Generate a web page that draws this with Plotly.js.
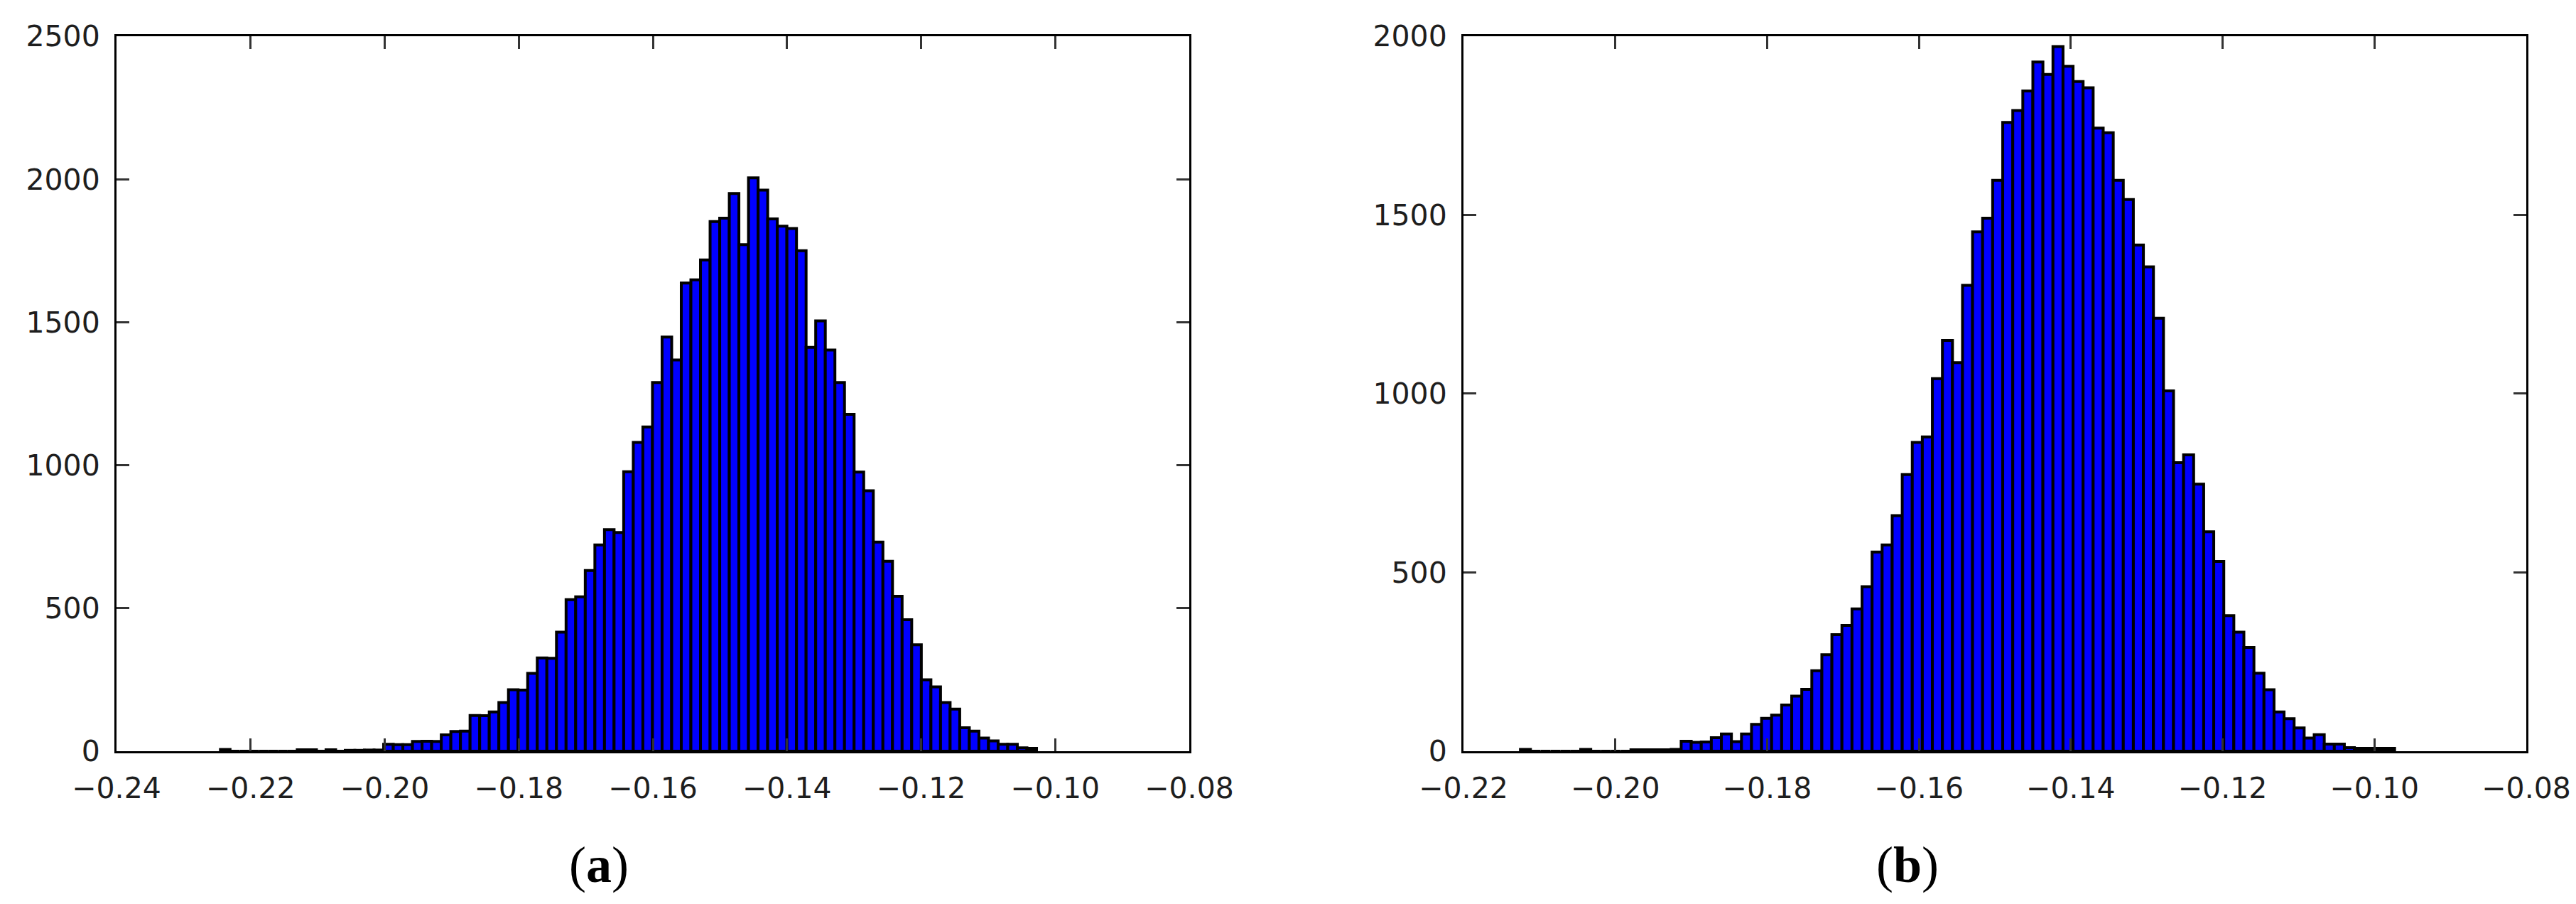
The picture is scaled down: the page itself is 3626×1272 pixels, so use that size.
<!DOCTYPE html>
<html>
<head>
<meta charset="utf-8">
<script src="https://cdn.plot.ly/plotly-3.0.1.min.js"></script>
<style>
  html, body { margin: 0; padding: 0; background: #fff; }
  #chart { width: 3626px; height: 1272px; }
</style>
</head>
<body>
<div id="chart"></div>
<script>
// Histogram (a): 85 equal bins
const binStartA = -0.2245;
const binWidthA = 0.001432;
const countsA = [
    6, 0, 0, 0, 0, 0, 0, 0, 5, 5,
    0, 5, 0, 3, 3, 4, 4, 24, 23, 23,
    34, 35, 34, 57, 69, 70, 125, 124, 137, 170,
    215, 214, 272, 326, 325, 416, 530, 540, 632, 721,
    775, 765, 977, 1080, 1134, 1289, 1448, 1368, 1637, 1648,
    1718, 1852, 1864, 1950, 1771, 2005, 1962, 1861, 1836, 1828,
    1750, 1412, 1505, 1403, 1289, 1178, 976, 911, 731, 664,
    542, 460, 372, 250, 225, 170, 147, 82, 70, 46,
    36, 24, 24, 12, 10
];

// Histogram (b): 87 equal bins
const binStartB = -0.2125;
const binWidthB = 0.0013236;
const countsB = [
    5, 0, 0, 0, 0, 0, 5, 0, 0, 0,
    0, 4, 4, 4, 4, 5, 28, 25, 26, 38,
    48, 27, 48, 75, 92, 101, 129, 154, 173, 225,
    270, 326, 352, 398, 460, 557, 577, 659, 774, 864,
    879, 1042, 1149, 1087, 1303, 1453, 1491, 1597, 1759, 1792,
    1847, 1928, 1893, 1971, 1916, 1873, 1856, 1743, 1730, 1597,
    1543, 1416, 1355, 1211, 1008, 807, 829, 747, 614, 531,
    379, 333, 290, 218, 172, 110, 91, 65, 37, 46,
    20, 20, 10, 8, 8, 8, 8
];

const xRangeA = [-0.24, -0.08];
const yRangeA = [0, 2500];
const xRangeB = [-0.22, -0.08];
const yRangeB = [0, 2000];
const panelLabels = ['(<b>a</b>)', '(<b>b</b>)'];

function histTrace(start, width, counts, xa, ya) {
    return {
        type: 'bar',
        x: counts.map((_, i) => start + (i + 0.5) * width),
        y: counts,
        width: width,
        xaxis: xa,
        yaxis: ya,
        marker: { color: '#0000ff', line: { color: '#000000', width: 4 } },
        hoverinfo: 'x+y'
    };
}

const tickFont = { family: 'DejaVu Sans', size: 41, color: '#1e1e1e' };

function axisStyle(extra) {
    return Object.assign({
        showgrid: false,
        zeroline: false,
        showline: true,
        linecolor: '#000',
        linewidth: 3,
        mirror: 'ticks',
        ticks: 'inside',
        ticklen: 18,
        tickwidth: 3,
        tickcolor: '#333',
        tickfont: tickFont,
        fixedrange: true
    }, extra);
}

const layout = {
    width: 3626,
    height: 1272,
    margin: { l: 0, r: 0, t: 0, b: 0 },
    paper_bgcolor: '#fff',
    plot_bgcolor: '#fff',
    showlegend: false,
    bargap: 0,
    xaxis: axisStyle({ domain: [0.04523, 0.46167], range: xRangeA, dtick: 0.02, tick0: 0, tickformat: '.2f', anchor: 'y', ticklabelstandoff: 14 }),
    yaxis: axisStyle({ domain: [0.16903, 0.95991], range: yRangeA, dtick: 500, tick0: 0, anchor: 'x', ticklabelstandoff: 12 }),
    xaxis2: axisStyle({ domain: [0.56812, 0.98070], range: xRangeB, dtick: 0.02, tick0: 0, tickformat: '.2f', anchor: 'y2', ticklabelstandoff: 14 }),
    yaxis2: axisStyle({ domain: [0.16903, 0.95991], range: yRangeB, dtick: 500, tick0: 0, anchor: 'x2', ticklabelstandoff: 12 }),
    annotations: [
        { text: panelLabels[0], x: 843 / 3626, y: 0.0432, xref: 'paper', yref: 'paper', showarrow: false,
          xanchor: 'center', yanchor: 'middle', font: { family: 'Liberation Serif', size: 72, color: '#000' } },
        { text: panelLabels[1], x: 2685 / 3626, y: 0.0432, xref: 'paper', yref: 'paper', showarrow: false,
          xanchor: 'center', yanchor: 'middle', font: { family: 'Liberation Serif', size: 72, color: '#000' } }
    ]
};

Plotly.newPlot('chart', [
    histTrace(binStartA, binWidthA, countsA, 'x', 'y'),
    histTrace(binStartB, binWidthB, countsB, 'x2', 'y2')
], layout, { staticPlot: true });
</script>
</body>
</html>
